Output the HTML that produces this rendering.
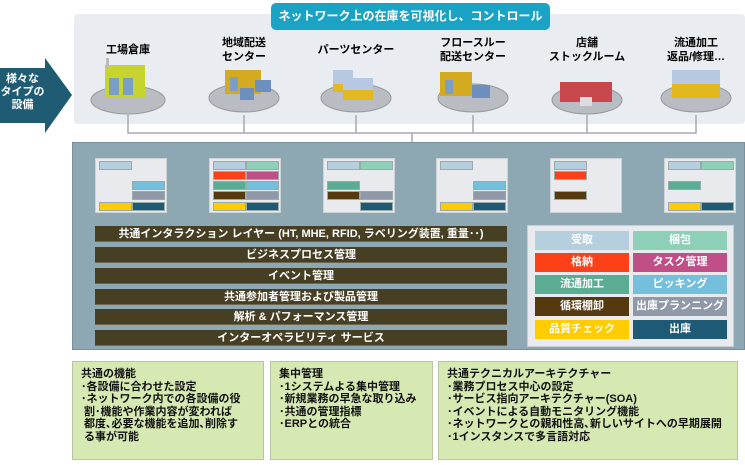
<!DOCTYPE html>
<html><head><meta charset="utf-8"><style>
*{margin:0;padding:0;box-sizing:border-box}
body{width:745px;height:465px;background:#fff;position:relative;overflow:hidden;font-family:"Liberation Sans","Noto Sans CJK JP",sans-serif;font-weight:bold}
.a{position:absolute}
.bar{position:absolute;left:95px;width:412px;height:16px;background:#463f24;color:#fff;font-size:11px;line-height:16px;text-align:center;border-bottom:1px solid #6b6650}
.mp{position:absolute;top:158px;width:72px;height:55px;background:#e8eaee;border:1px solid #cfd3d8}
.c{position:absolute;width:33px;height:9px;border:1px solid #9aa}
.lg{position:absolute;width:94px;height:19px;color:#fff;font-size:11px;line-height:19px;text-align:center}
.fl{position:absolute;font-size:11px;line-height:14px;text-align:center;width:110px;color:#000}
.bx{position:absolute;top:361px;height:99px;background:#d7e9b2;border:1px solid #b9c4a6;font-size:11px;line-height:12.5px;padding:6px 0 0 8px;color:#111}
</style></head><body>
<div class="a" style="left:74px;top:14px;width:671px;height:110px;background:#e9ecf1;border-radius:4px"></div>
<div class="a" style="left:271px;top:3px;width:279px;height:27px;background:#1aa3c5;border-radius:5px;color:#fff;font-size:12px;line-height:27px;text-align:center">ネットワーク上の在庫を可視化し、コントロール</div>
<svg class="a" style="left:0;top:0" width="745" height="465">
<polygon points="0,68 45,68 45,58 72,95 45,133 45,123 0,123" fill="#1f5b73"/>
<g stroke="#aaa" stroke-width="1.5" fill="none">
<path d="M128,115V133H696V115M244,115V133M356,115V133M473,115V133M587,115V133M412,133V142"/>
</g>
<g>
<ellipse cx="128" cy="100" rx="37" ry="14" fill="#b9bcc2" stroke="#999"/>
<rect x="105" y="65" width="40" height="32" fill="#c7d430"/><rect x="109" y="78" width="10" height="17" fill="#7b9ec7"/><rect x="123" y="78" width="10" height="17" fill="#7b9ec7"/><rect x="106" y="58" width="3" height="10" fill="#bbb"/>
<ellipse cx="244" cy="98" rx="35" ry="14" fill="#b9bcc2" stroke="#999"/>
<rect x="225" y="70" width="36" height="24" fill="#d4aa20"/><rect x="230" y="77" width="8" height="14" fill="#7b9ec7"/><rect x="255" y="80" width="16" height="12" fill="#6d8fbf"/><rect x="240" y="88" width="14" height="12" fill="#6d8fbf"/>
<ellipse cx="356" cy="98" rx="35" ry="14" fill="#b9bcc2" stroke="#999"/>
<rect x="333" y="70" width="20" height="22" fill="#b7c8e2"/><rect x="333" y="84" width="20" height="8" fill="#e2b81e"/><rect x="343" y="78" width="30" height="22" fill="#b7c8e2"/><rect x="343" y="90" width="30" height="10" fill="#e2b81e"/>
<ellipse cx="473" cy="98" rx="35" ry="14" fill="#b9bcc2" stroke="#999"/>
<rect x="440" y="72" width="32" height="24" fill="#d4aa20"/><rect x="445" y="80" width="8" height="14" fill="#7b9ec7"/><rect x="472" y="85" width="18" height="13" fill="#6d8fbf"/>
<ellipse cx="587" cy="100" rx="35" ry="14" fill="#b9bcc2" stroke="#999"/>
<rect x="560" y="82" width="52" height="20" fill="#c8474d"/><rect x="580" y="97" width="12" height="9" fill="#ddd"/>
<ellipse cx="696" cy="98" rx="35" ry="14" fill="#b9bcc2" stroke="#999"/>
<rect x="672" y="70" width="48" height="28" fill="#b7c8e2"/><rect x="672" y="84" width="48" height="14" fill="#e2b81e"/>
</g>
</svg>
<div class="a" style="left:0;top:73px;width:45px;color:#fff;font-size:11px;line-height:13px;text-align:center">様々な<br>タイプの<br>設備</div>
<div class="fl" style="left:73px;top:43px">工場倉庫</div>
<div class="fl" style="left:189px;top:36px">地域配送<br>センター</div>
<div class="fl" style="left:301px;top:43px">パーツセンター</div>
<div class="fl" style="left:418px;top:36px">フロースルー<br>配送センター</div>
<div class="fl" style="left:532px;top:36px">店舗<br>ストックルーム</div>
<div class="fl" style="left:641px;top:36px">流通加工<br>返品/修理…</div>

<div class="a" style="left:72px;top:142px;width:673px;height:208px;background:#8ea8b3;border:1px solid #7a8f99"></div>
<div id="mps"></div>
<div class="bar" style="top:226px">共通インタラクション レイヤー (HT, MHE, RFID, ラベリング装置, 重量･･)</div>
<div class="bar" style="top:247px">ビジネスプロセス管理</div>
<div class="bar" style="top:268px">イベント管理</div>
<div class="bar" style="top:289px">共通参加者管理および製品管理</div>
<div class="bar" style="top:309px">解析 &amp; パフォーマンス管理</div>
<div class="bar" style="top:330px">インターオペラビリティ サービス</div>
<div class="a" style="left:527px;top:225px;width:207px;height:122px;background:#e8eaee;border:1px solid #c9ced3"></div>
<div class="lg" style="left:535px;top:231px;background:#b5cfdf">受取</div><div class="lg" style="left:633px;top:231px;background:#8ecfb8">梱包</div>
<div class="lg" style="left:535px;top:253px;background:#fc4119">格納</div><div class="lg" style="left:633px;top:253px;background:#c14f87">タスク管理</div>
<div class="lg" style="left:535px;top:275px;background:#5aac93">流通加工</div><div class="lg" style="left:633px;top:275px;background:#74c0dc">ピッキング</div>
<div class="lg" style="left:535px;top:297px;background:#553a10">循環棚卸</div><div class="lg" style="left:633px;top:297px;background:#9099a8">出庫プランニング</div>
<div class="lg" style="left:535px;top:320px;background:#ffcc00">品質チェック</div><div class="lg" style="left:633px;top:320px;background:#1e5a76">出庫</div>

<div class="bx" style="left:72px;width:192px">共通の機能<br>･各設備に合わせた設定<br>･ネットワーク内での各設備の役<br>&nbsp;割･機能や作業内容が変われば<br>&nbsp;都度､必要な機能を追加､削除す<br>&nbsp;る事が可能</div>
<div class="bx" style="left:270px;width:163px">集中管理<br>･1システムよる集中管理<br>･新規業務の早急な取り込み<br>･共通の管理指標<br>･ERPとの統合</div>
<div class="bx" style="left:438px;width:300px">共通テクニカルアーキテクチャー<br>･業務プロセス中心の設定<br>･サービス指向アーキテクチャー(SOA)<br>･イベントによる自動モニタリング機能<br>･ネットワークとの親和性高､新しいサイトへの早期展開<br>･1インスタンスで多言語対応</div>
<script>
var C={lb:"#b5cfdf",mi:"#8ecfb8",re:"#fc4119",pk:"#c14f87",gr:"#5aac93",sk:"#74c0dc",br:"#553a10",gy:"#9099a8",ye:"#ffcc00",dt:"#1e5a76"};
var P=[
[[0,0,"lb"],[2,1,"sk"],[3,1,"gy"],[4,0,"ye"],[4,1,"dt"]],
[[0,0,"lb"],[0,1,"mi"],[1,0,"re"],[1,1,"pk"],[2,0,"gr"],[2,1,"sk"],[3,0,"br"],[3,1,"gy"],[4,0,"ye"],[4,1,"dt"]],
[[0,0,"lb"],[0,1,"mi"],[2,0,"gr"],[3,0,"br"],[3,1,"gy"],[4,1,"dt"]],
[[0,0,"lb"],[2,1,"sk"],[3,1,"gy"],[4,0,"ye"],[4,1,"dt"]],
[[0,0,"lb"],[1,0,"re"],[3,0,"br"]],
[[0,0,"lb"],[0,1,"mi"],[2,0,"gr"],[4,0,"ye"],[4,1,"dt"]]];
var X=[95,209,323,436,550,664],h="";
P.forEach(function(p,i){h+='<div class="mp" style="left:'+X[i]+'px">';p.forEach(function(c){h+='<div class="c" style="top:'+[2,12,22,32,43][c[0]]+'px;left:'+(c[1]?36:3)+'px;background:'+C[c[2]]+'"></div>'});h+='</div>'});
document.getElementById("mps").outerHTML=h;
</script>
</body></html>
